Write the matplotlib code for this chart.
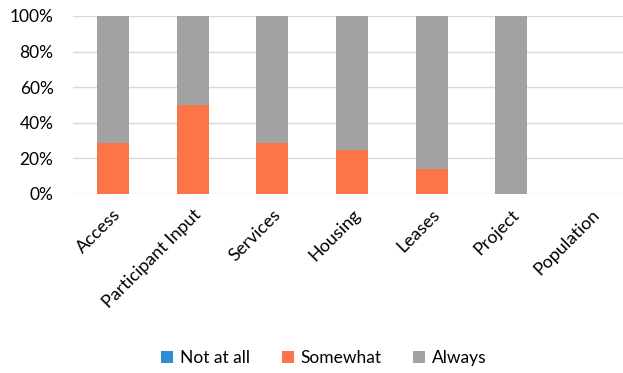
import numpy as np
import matplotlib
matplotlib.use('Agg')
import matplotlib.pyplot as plt

plt.rcParams['font.family'] = ['Lato', 'DejaVu Sans']

categories = ['Access', 'Participant Input', 'Services', 'Housing', 'Leases', 'Project', 'Population']
not_at_all = [0, 0, 0, 0, 0, 0, 0]
somewhat = [0.286, 0.50, 0.286, 0.25, 0.143, 0.0, 0.0]
always = [0.714, 0.50, 0.714, 0.75, 0.857, 1.0, 0.0]

fig = plt.figure(figsize=(6.23, 3.73), dpi=100)
ax = fig.add_axes([73 / 623, 1 - 194 / 373, 558 / 623, 178 / 373])

x = np.arange(len(categories))
w = 0.4
ax.bar(x, not_at_all, w, color='#2F8CD6', label='Not at all')
ax.bar(x, somewhat, w, bottom=not_at_all, color='#FB7549', label='Somewhat')
ax.bar(x, always, w, bottom=np.array(not_at_all) + np.array(somewhat), color='#A2A2A2', label='Always')

ax.set_xlim(-0.5, len(categories) - 0.5)
ax.set_ylim(0, 1)
ax.set_yticks(np.arange(0, 1.01, 0.2))
ax.set_yticklabels([f'{int(round(v * 100))}%' for v in np.arange(0, 1.01, 0.2)], fontsize=12.5)
ax.yaxis.grid(True, color='#D9D9D9', linewidth=1)
ax.set_axisbelow(True)
for s in ax.spines.values():
    s.set_visible(False)
ax.tick_params(length=0)
ax.tick_params(axis='y', pad=14)
ax.tick_params(axis='x', pad=9)

ax.set_xticks(x)
ax.set_xticklabels(categories, rotation=45, ha='right', rotation_mode='anchor', fontsize=13)

fig.legend(loc='center', bbox_to_anchor=(324 / 623, 1 - 358 / 373), ncol=3, frameon=False,
           fontsize=12.5, handlelength=0.7, handleheight=0.7, columnspacing=1.8, handletextpad=0.4)

fig.savefig('out.png', dpi=100)
